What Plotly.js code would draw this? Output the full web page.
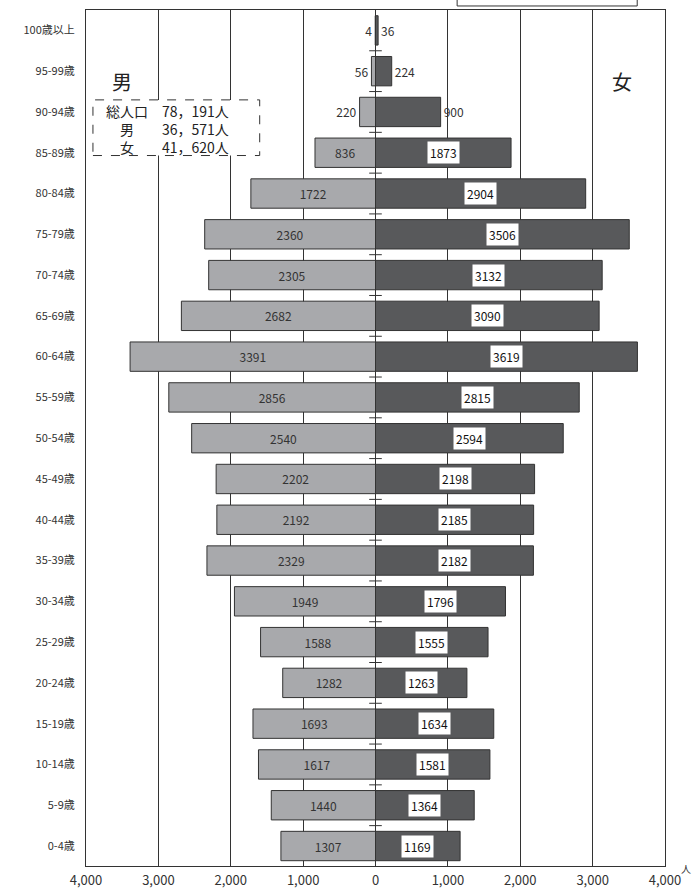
<!DOCTYPE html>
<html>
<head>
<meta charset="utf-8">
<script src="https://cdn.plot.ly/plotly-3.0.1.min.js"></script>
<style>
  html, body { margin: 0; padding: 0; background: #fff; }
  #chart { width: 692px; height: 888px; }
</style>
</head>
<body>
<div id="chart"></div>
<script>
// Age groups, youngest first (bottom of the pyramid)
const ageGroups = ['0-4歳', '5-9歳', '10-14歳', '15-19歳', '20-24歳', '25-29歳', '30-34歳',
  '35-39歳', '40-44歳', '45-49歳', '50-54歳', '55-59歳', '60-64歳', '65-69歳', '70-74歳',
  '75-79歳', '80-84歳', '85-89歳', '90-94歳', '95-99歳', '100歳以上'];

// Population by age group (persons)
const male = [1307, 1440, 1617, 1693, 1282, 1588, 1949, 2329, 2192, 2202, 2540, 2856,
  3391, 2682, 2305, 2360, 1722, 836, 220, 56, 4];
const female = [1169, 1364, 1581, 1634, 1263, 1555, 1796, 2182, 2185, 2198, 2594, 2815,
  3619, 3090, 3132, 3506, 2904, 1873, 900, 224, 36];

// Population axis ticks (both sides)
const xTickVals = [-4000, -3000, -2000, -1000, 0, 1000, 2000, 3000, 4000];
const xTickText = ['4,000', '3,000', '2,000', '1,000', '0', '1,000', '2,000', '3,000', '4,000'];

const FONT = '"Noto Sans CJK JP", "Noto Sans", sans-serif';
const INK = '#333';

const idx = ageGroups.map((_, i) => i);
const sum = a => a.reduce((s, v) => s + v, 0);
const fmt = n => n.toLocaleString('en-US').replace(/,/g, '，');

const maleTotal = sum(male);
const femaleTotal = sum(female);

const traces = [
  {
    type: 'bar', orientation: 'h', name: '男',
    y: idx, x: male.map(v => -v), width: 0.72,
    marker: { color: '#a8a9ac', line: { color: INK, width: 1 } },
    text: male.map(String),
    textposition: male.map(v => (v < 500 ? 'outside' : 'inside')),
    insidetextanchor: 'middle',
    textfont: { family: FONT, size: 12, color: INK },
    constraintext: 'none', cliponaxis: false, hoverinfo: 'skip'
  },
  {
    type: 'bar', orientation: 'h', name: '女',
    y: idx, x: female, width: 0.72,
    marker: { color: '#58595b', line: { color: INK, width: 1 } },
    text: female.map(v => (v < 1000 ? String(v) : '')),
    textposition: 'outside',
    textfont: { family: FONT, size: 12, color: INK },
    constraintext: 'none', cliponaxis: false, hoverinfo: 'skip'
  },
  {
    // small crosses on the centre line between age groups
    type: 'scatter', mode: 'markers',
    x: idx.slice(1).map(() => 0), y: idx.slice(1).map(i => i - 0.5),
    marker: { symbol: 'cross-thin', size: 9, line: { color: INK, width: 1 } },
    hoverinfo: 'skip', cliponaxis: false
  }
];

// White-boxed labels inside the female bars
const femaleLabels = female
  .map((v, i) => ({ v, i }))
  .filter(d => d.v >= 1000)
  .map(d => ({
    xref: 'x', yref: 'y', x: d.v / 2, y: d.i, text: String(d.v), showarrow: false,
    bgcolor: '#fff', borderpad: 2,
    font: { family: FONT, size: 12, color: '#111' }
  }));

const annotations = femaleLabels.concat([
  { xref: 'paper', yref: 'paper', x: 0.063, y: 0.916, xanchor: 'center', yanchor: 'middle',
    text: '男', showarrow: false, font: { family: FONT, size: 20, color: '#222' } },
  { xref: 'paper', yref: 'paper', x: 0.925, y: 0.916, xanchor: 'center', yanchor: 'middle',
    text: '女', showarrow: false, font: { family: FONT, size: 20, color: '#222' } },
  { xref: 'paper', yref: 'paper', x: 0.071, y: 0.861, xanchor: 'center', yanchor: 'middle',
    text: '総人口<br>男<br>女', align: 'center', showarrow: false,
    font: { family: FONT, size: 14, color: '#222' } },
  { xref: 'paper', yref: 'paper', x: 0.127, y: 0.861, xanchor: 'left', yanchor: 'middle',
    text: fmt(maleTotal + femaleTotal) + '人<br>' + fmt(maleTotal) + '人<br>' + fmt(femaleTotal) + '人',
    align: 'right', showarrow: false,
    font: { family: FONT, size: 14, color: '#222' } },
  { xref: 'paper', yref: 'paper', x: 1.036, y: -0.003, xanchor: 'center', yanchor: 'middle',
    text: '人', showarrow: false, font: { family: FONT, size: 10, color: INK } }
]);

const layout = {
  width: 692, height: 888,
  margin: { l: 86, r: 27, t: 10, b: 22 },
  paper_bgcolor: '#fff', plot_bgcolor: '#fff',
  showlegend: false, barmode: 'overlay',
  xaxis: {
    range: [-4000, 4000], tickvals: xTickVals, ticktext: xTickText,
    showgrid: true, gridcolor: INK, gridwidth: 1, zeroline: false,
    showline: true, mirror: true, linecolor: INK, linewidth: 1,
    ticks: 'outside', ticklen: 2, tickcolor: 'rgba(0,0,0,0)',
    tickfont: { family: FONT, size: 13, color: INK }, fixedrange: true
  },
  yaxis: {
    range: [-0.49, 20.5], tickvals: idx, ticktext: ageGroups,
    showgrid: false, zeroline: false,
    showline: true, mirror: true, linecolor: INK, linewidth: 1,
    ticks: 'outside', ticklen: 8, tickcolor: 'rgba(0,0,0,0)',
    tickfont: { family: FONT, size: 11, color: INK }, fixedrange: true
  },
  shapes: [
    { type: 'rect', xref: 'paper', yref: 'paper', x0: 0.012, x1: 0.3, y0: 0.83, y1: 0.895,
      line: { color: INK, width: 1, dash: 'dash' }, fillcolor: '#fff', layer: 'above' },
    { type: 'rect', xref: 'paper', yref: 'paper', x0: 0.641, x1: 0.952, y0: 1.0047, y1: 1.06,
      line: { color: INK, width: 1 }, fillcolor: 'rgba(0,0,0,0)' }
  ],
  annotations: annotations
};

Plotly.newPlot('chart', traces, layout, { displayModeBar: false, staticPlot: true });
</script>
</body>
</html>
